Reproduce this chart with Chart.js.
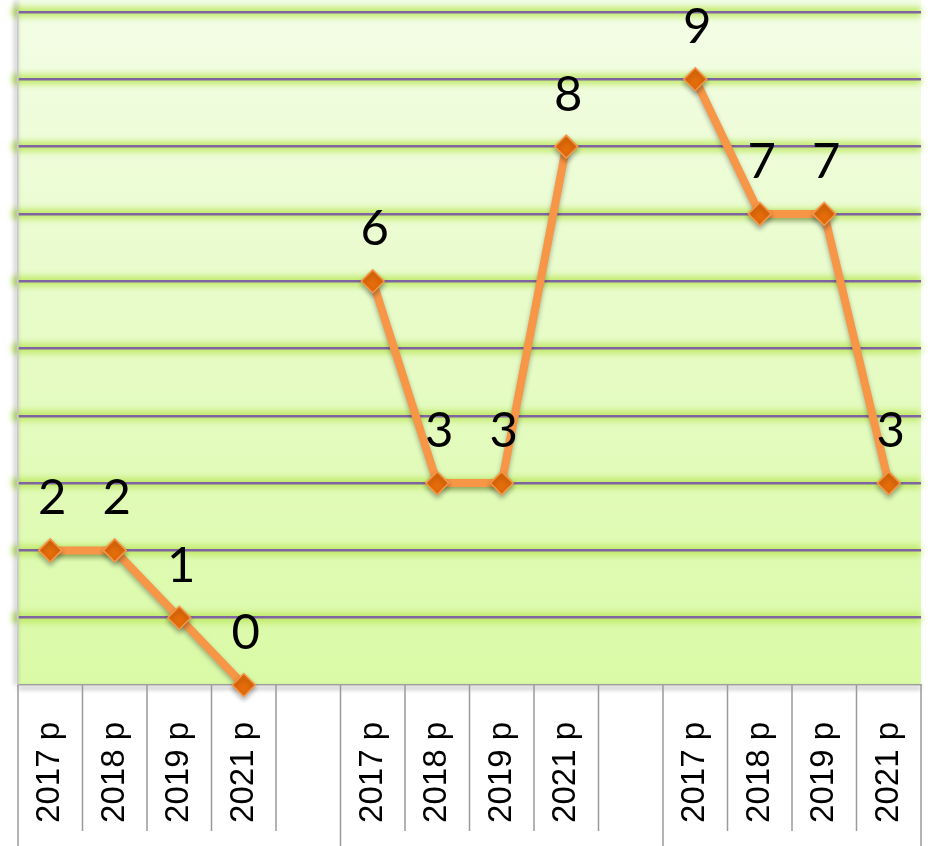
<!DOCTYPE html>
<html>
<head>
<meta charset="utf-8">
<script src="https://cdn.jsdelivr.net/npm/chart.js@4"></script>
<style>
    html, body { margin: 0; padding: 0; overflow: hidden; background: #ffffff; }
    #wrap { width: 928px; height: 846px; position: relative; }
</style>
</head>
<body>
<div id="wrap"><canvas id="ga_chart"></canvas></div>
<script>
    // three groups of years, an empty slot between groups
    const categories = ['2017 p', '2018 p', '2019 p', '2021 p', '',
                        '2017 p', '2018 p', '2019 p', '2021 p', '',
                        '2017 p', '2018 p', '2019 p', '2021 p'];
    const values = [2, 2, 1, 0, null, 6, 3, 3, 8, null, 9, 7, 7, 3];
    const yTicks = [0, 1, 2, 3, 4, 5, 6, 7, 8, 9, 10];
    const groupEdges = [0, 5, 10, 14];

    const plot_bg = {
        id: 'plot_bg',
        beforeDraw(chart) {
            const ctx = chart.ctx;
            const a = chart.chartArea;
            const y = chart.scales.y;
            ctx.save();
            let grad = ctx.createLinearGradient(0, 0, 0, a.bottom);
            grad.addColorStop(0, '#f3fde6');
            grad.addColorStop(1, '#dafaa6');
            ctx.fillStyle = grad;
            ctx.fillRect(a.left, 0, a.right - a.left, a.bottom);

            // soft green glow under each gridline
            ctx.filter = 'blur(3px)';
            ctx.strokeStyle = 'rgba(190, 232, 100, 0.95)';
            ctx.lineWidth = 10;
            yTicks.forEach(v => {
                if (v === 0) return;
                let py = y.getPixelForValue(v);
                ctx.beginPath();
                ctx.moveTo(a.left - 6, py);
                ctx.lineTo(a.right, py);
                ctx.stroke();
            });
            // shadow under the axis line
            ctx.filter = 'blur(2px)';
            ctx.strokeStyle = 'rgba(0, 0, 0, 0.25)';
            ctx.lineWidth = 3;
            ctx.beginPath();
            ctx.moveTo(a.left, a.bottom + 3);
            ctx.lineTo(a.right, a.bottom + 3);
            ctx.stroke();
            ctx.beginPath();
            ctx.moveTo(a.left - 2, 0);
            ctx.lineTo(a.left - 2, a.bottom);
            ctx.stroke();
            ctx.restore();
        },
        beforeDatasetsDraw(chart) {
            const ctx = chart.ctx;
            ctx.save();
            ctx.shadowColor = 'rgba(0, 0, 0, 0.3)';
            ctx.shadowBlur = 5;
            ctx.shadowOffsetY = 3;
        },
        afterDatasetsDraw(chart) {
            const ctx = chart.ctx;
            ctx.restore();
            const a = chart.chartArea;
            const x = chart.scales.x;
            const half = (x.getPixelForValue(1) - x.getPixelForValue(0)) / 2;

            // box lines between the category labels
            ctx.save();
            ctx.strokeStyle = '#9a9a9a';
            ctx.lineWidth = 1.5;
            for (let i = 0; i <= categories.length; i++) {
                let px = (i < categories.length) ? x.getPixelForValue(i) - half : x.getPixelForValue(i - 1) + half;
                let bottom = groupEdges.includes(i) ? chart.height : a.bottom + 146;
                ctx.beginPath();
                ctx.moveTo(px, a.bottom);
                ctx.lineTo(px, bottom);
                ctx.stroke();
            }

            // value labels above the points
            const meta = chart.getDatasetMeta(0);
            ctx.fillStyle = '#000000';
            ctx.font = '49px Lato';
            ctx.textAlign = 'center';
            ctx.textBaseline = 'alphabetic';
            meta.data.forEach((pt, i) => {
                if (values[i] === null) return;
                ctx.fillText(String(values[i]), pt.x + 2, pt.y - 36);
            });
            ctx.restore();
        }
    };

    let chartCanvas = document.getElementById('ga_chart').getContext('2d');
    let chartObject = new Chart(chartCanvas, {
        type: 'line',
        data: {
            labels: categories,
            datasets: [{
                data: values,
                borderColor: '#f79646',
                borderWidth: 8,
                fill: false,
                spanGaps: false,
                pointStyle: 'rectRot',
                pointRadius: 11.5,
                pointBackgroundColor: '#e46c0a',
                pointBorderColor: '#f79646',
                pointBorderWidth: 1.5,
                clip: false,
            }],
        },
        options: {
            responsive: true,
            maintainAspectRatio: false,
            animation: false,
            layout: {
                autoPadding: false,
                padding: { left: 18, right: 7, top: 12, bottom: 0 }
            },
            plugins: {
                legend: { display: false },
                tooltip: { enabled: false },
            },
            scales: {
                x: {
                    type: 'category',
                    offset: true,
                    afterFit: function(scale) {
                        scale.height = 161;
                        scale.paddingLeft = 0;
                        scale.paddingRight = 0;
                    },
                    grid: {
                        drawOnChartArea: false,
                        drawTicks: false,
                    },
                    border: {
                        display: true,
                        color: '#a0a0a0',
                        width: 1.5,
                    },
                    ticks: {
                        autoSkip: false,
                        minRotation: 90,
                        maxRotation: 90,
                        padding: 37,
                        color: '#000000',
                        font: { family: 'Liberation Sans', size: 33 },
                    },
                },
                y: {
                    min: 0,
                    max: 10,
                    afterBuildTicks: function(scale) {
                        scale.ticks = yTicks.map(v => ({ value: v }));
                    },
                    grid: {
                        drawTicks: false,
                        lineWidth: 2.5,
                        color: function(context) {
                            return context.tick.value === 0 ? 'rgba(0,0,0,0)' : '#8064a2';
                        },
                    },
                    border: {
                        display: true,
                        color: '#c8c8c8',
                        width: 1.5,
                    },
                    ticks: {
                        display: false,
                    },
                },
            },
        },
        plugins: [plot_bg],
    });
</script>
</body>
</html>
